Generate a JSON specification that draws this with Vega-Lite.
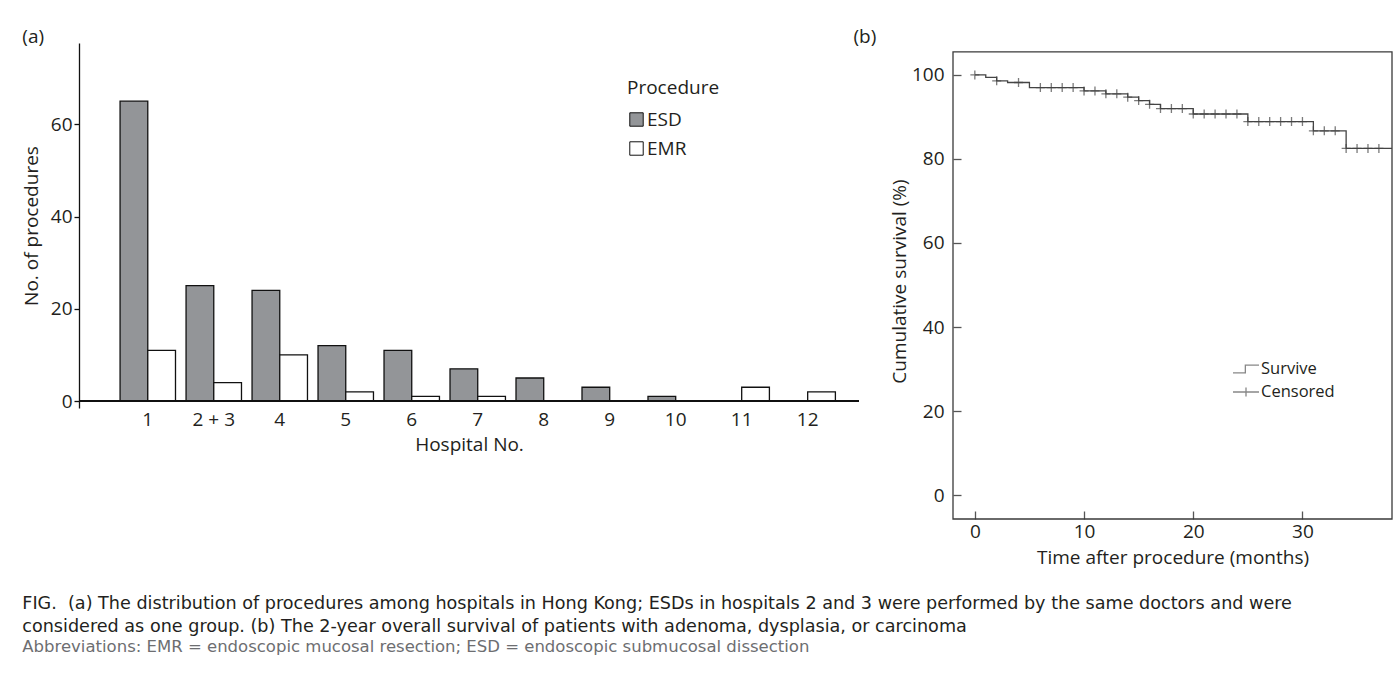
{
  "$schema": "https://vega.github.io/schema/vega-lite/v6.json",
  "background": "white",
  "padding": {"left": 22, "top": 27, "right": 5, "bottom": 5},
  "spacing": -7,
  "title": {
    "text": ["FIG.\u00a0 (a) The distribution of procedures among hospitals in Hong Kong; ESDs in hospitals 2 and 3 were performed by the same doctors and were", "considered as one group. (b) The 2-year overall survival of patients with adenoma, dysplasia, or carcinoma"],
    "subtitle": "Abbreviations: EMR = endoscopic mucosal resection; ESD = endoscopic submucosal dissection",
    "orient": "bottom",
    "anchor": "start",
    "frame": "bounds",
    "offset": 28,
    "font": "DejaVu Sans",
    "fontSize": 17.6,
    "lineHeight": 23,
    "color": "#231f20",
    "subtitleFont": "DejaVu Sans",
    "subtitleFontSize": 16.5,
    "subtitleFontWeight": "normal",
    "subtitleColor": "#6d6e71",
    "subtitlePadding": 3
  },
  "datasets": {
    "hospitals": [
      {"hospital": "1", "procedure": "ESD", "count": 65}, {"hospital": "1", "procedure": "EMR", "count": 11},
      {"hospital": "2 + 3", "procedure": "ESD", "count": 25}, {"hospital": "2 + 3", "procedure": "EMR", "count": 4},
      {"hospital": "4", "procedure": "ESD", "count": 24}, {"hospital": "4", "procedure": "EMR", "count": 10},
      {"hospital": "5", "procedure": "ESD", "count": 12}, {"hospital": "5", "procedure": "EMR", "count": 2},
      {"hospital": "6", "procedure": "ESD", "count": 11}, {"hospital": "6", "procedure": "EMR", "count": 1},
      {"hospital": "7", "procedure": "ESD", "count": 7}, {"hospital": "7", "procedure": "EMR", "count": 1},
      {"hospital": "8", "procedure": "ESD", "count": 5}, {"hospital": "8", "procedure": "EMR", "count": 0},
      {"hospital": "9", "procedure": "ESD", "count": 3}, {"hospital": "9", "procedure": "EMR", "count": 0},
      {"hospital": "10", "procedure": "ESD", "count": 1}, {"hospital": "10", "procedure": "EMR", "count": 0},
      {"hospital": "11", "procedure": "ESD", "count": 0}, {"hospital": "11", "procedure": "EMR", "count": 3},
      {"hospital": "12", "procedure": "ESD", "count": 0}, {"hospital": "12", "procedure": "EMR", "count": 2}
    ],
    "survival": [
      {"month": 0, "survival": 100}, {"month": 1, "survival": 99.4}, {"month": 2, "survival": 98.6},
      {"month": 3, "survival": 98.2}, {"month": 5, "survival": 97.0}, {"month": 10, "survival": 96.2},
      {"month": 12, "survival": 95.5}, {"month": 14, "survival": 94.7}, {"month": 15, "survival": 93.9},
      {"month": 16, "survival": 93.0}, {"month": 17, "survival": 92.0}, {"month": 20, "survival": 90.7},
      {"month": 25, "survival": 88.9}, {"month": 31, "survival": 86.7}, {"month": 34, "survival": 82.5},
      {"month": 38.2, "survival": 82.5}
    ],
    "censored": [
      {"month": 0, "survival": 100, "series": "Censored"}, {"month": 2, "survival": 98.6, "series": "Censored"},
      {"month": 4, "survival": 98.2, "series": "Censored"}, {"month": 6, "survival": 97.0, "series": "Censored"},
      {"month": 7, "survival": 97.0, "series": "Censored"}, {"month": 8, "survival": 97.0, "series": "Censored"},
      {"month": 9, "survival": 97.0, "series": "Censored"}, {"month": 10, "survival": 96.2, "series": "Censored"},
      {"month": 11, "survival": 96.2, "series": "Censored"}, {"month": 12, "survival": 95.5, "series": "Censored"},
      {"month": 13, "survival": 95.5, "series": "Censored"}, {"month": 14, "survival": 94.7, "series": "Censored"},
      {"month": 15, "survival": 93.9, "series": "Censored"}, {"month": 16, "survival": 93.0, "series": "Censored"},
      {"month": 17, "survival": 92.0, "series": "Censored"}, {"month": 18, "survival": 92.0, "series": "Censored"},
      {"month": 19, "survival": 92.0, "series": "Censored"}, {"month": 20, "survival": 90.7, "series": "Censored"},
      {"month": 21, "survival": 90.7, "series": "Censored"}, {"month": 22, "survival": 90.7, "series": "Censored"},
      {"month": 23, "survival": 90.7, "series": "Censored"}, {"month": 24, "survival": 90.7, "series": "Censored"},
      {"month": 25, "survival": 88.9, "series": "Censored"}, {"month": 26, "survival": 88.9, "series": "Censored"},
      {"month": 27, "survival": 88.9, "series": "Censored"}, {"month": 28, "survival": 88.9, "series": "Censored"},
      {"month": 29, "survival": 88.9, "series": "Censored"}, {"month": 30, "survival": 88.9, "series": "Censored"},
      {"month": 31, "survival": 86.7, "series": "Censored"}, {"month": 32, "survival": 86.7, "series": "Censored"},
      {"month": 33, "survival": 86.7, "series": "Censored"}, {"month": 34, "survival": 82.5, "series": "Censored"},
      {"month": 35, "survival": 82.5, "series": "Censored"}, {"month": 36, "survival": 82.5, "series": "Censored"},
      {"month": 37, "survival": 82.5, "series": "Censored"}
    ],
    "frame": [{"x0": -2, "x1": 38.2, "y0": -5.7, "y1": 105.5}]
  },
  "hconcat": [
    {
      "width": 780,
      "height": 365,
      "title": {"text": "(a)", "anchor": "start", "frame": "bounds", "fontSize": 19, "offset": -3.5},
      "view": {"stroke": null},
      "data": {"name": "hospitals"},
      "layer": [
        {
          "mark": {"type": "bar", "stroke": "#111111", "strokeWidth": 1.3},
          "encoding": {
            "x": {
              "field": "hospital", "type": "nominal",
              "scale": {"domain": ["1", "2 + 3", "4", "5", "6", "7", "8", "9", "10", "11", "12"], "paddingInner": 0.16, "paddingOuter": 0.49, "align": 0.635},
              "axis": {"domain": false, "ticks": false, "labelAngle": 0, "labelPadding": 2, "title": "Hospital No.", "titlePadding": 6}
            },
            "xOffset": {"field": "procedure", "type": "nominal", "scale": {"domain": ["ESD", "EMR"]}},
            "y": {
              "field": "count", "type": "quantitative", "stack": null,
              "scale": {"domain": [-1.5, 77.6], "nice": false, "zero": false},
              "axis": {"values": [0, 20, 40, 60], "domain": true, "domainColor": "#111111", "domainWidth": 1.3, "ticks": true, "tickColor": "#111111", "tickWidth": 1.3, "tickSize": 5, "labelPadding": 2, "title": "No. of procedures", "titlePadding": 9}
            },
            "y2": {"datum": 0},
            "fill": {
              "field": "procedure", "type": "nominal",
              "scale": {"domain": ["ESD", "EMR"], "range": ["#939598", "#ffffff"]},
              "legend": {
                "title": "Procedure", "orient": "none", "legendX": 548, "legendY": 36, "padding": 0,
                "titleFontSize": 19, "titleFontWeight": "normal", "titleColor": "#231f20", "titlePadding": 12,
                "labelFontSize": 19, "labelColor": "#231f20", "labelOffset": 1, "rowPadding": 9,
                "symbolType": "square", "symbolSize": 180, "symbolStrokeColor": "#111111", "symbolStrokeWidth": 1
              }
            }
          }
        },
        {
          "mark": {"type": "rule", "color": "#111111", "strokeWidth": 1.3},
          "encoding": {"y": {"datum": 0}}
        }
      ]
    },
    {
      "width": 439,
      "height": 476,
      "title": {"text": "(b)", "anchor": "start", "frame": "bounds", "fontSize": 19, "dx": -37, "offset": -3.5},
      "view": {"stroke": null},
      "layer": [
        {
          "data": {"name": "frame"},
          "mark": {"type": "rect", "fill": null, "stroke": "#3a3a3a", "strokeWidth": 1.3},
          "encoding": {
            "x": {"field": "x0", "type": "quantitative"},
            "x2": {"field": "x1"},
            "y": {"field": "y0", "type": "quantitative"},
            "y2": {"field": "y1"}
          }
        },
        {
          "data": {"name": "survival"},
          "mark": {"type": "line", "interpolate": "step-after", "color": "#444444", "strokeWidth": 1.3},
          "encoding": {
            "x": {
              "field": "month", "type": "quantitative",
              "scale": {"domain": [-2, 38.2], "nice": false, "zero": false},
              "axis": {"values": [0, 10, 20, 30], "domain": false, "ticks": true, "tickSize": -8, "tickColor": "#555555", "tickWidth": 1.3, "labelPadding": 11, "title": "Time after procedure (months)", "titlePadding": 7}
            },
            "y": {
              "field": "survival", "type": "quantitative",
              "scale": {"domain": [-5.7, 107.6], "nice": false, "zero": false},
              "axis": {"values": [0, 20, 40, 60, 80, 100], "domain": false, "ticks": true, "tickSize": -8, "tickColor": "#555555", "tickWidth": 1.3, "labelPadding": 17, "title": "Cumulative survival (%)", "titlePadding": 2}
            }
          }
        },
        {
          "data": {"name": "censored"},
          "mark": {"type": "point", "shape": "M-1,0H1M0,-1V1", "size": 81, "filled": false, "color": "#444444", "strokeWidth": 1.3},
          "encoding": {
            "x": {"field": "month", "type": "quantitative"},
            "y": {"field": "survival", "type": "quantitative"}
          }
        },
        {
          "data": {"name": "censored"},
          "mark": {"type": "point", "filled": false, "color": "#555555", "strokeWidth": 0},
          "encoding": {
            "x": {"field": "month", "type": "quantitative"},
            "y": {"field": "survival", "type": "quantitative"},
            "shape": {
              "field": "series", "type": "nominal",
              "scale": {"domain": ["Survive", "Censored"], "range": ["M-1,0.3H-0.05V-0.3H1", "M-1,0H1M0,-0.35V0.35"]},
              "legend": {
                "title": null, "orient": "none", "legendX": 1153, "legendY": 312, "padding": 0,
                "labelFontSize": 16.5, "labelColor": "#231f20", "labelOffset": 1, "rowPadding": -3,
                "symbolSize": 676, "symbolStrokeColor": "#555555", "symbolStrokeWidth": 1.3, "symbolFillColor": "transparent"
              }
            }
          }
        }
      ]
    }
  ],
  "config": {
    "font": "Open Sans",
    "view": {"stroke": null},
    "axis": {"grid": false, "labelFont": "Open Sans", "titleFont": "Open Sans", "labelFontSize": 19, "titleFontSize": 19, "titleFontWeight": "normal", "labelColor": "#231f20", "titleColor": "#231f20"},
    "legend": {"labelFont": "Open Sans", "titleFont": "Open Sans"},
    "title": {"font": "Open Sans", "fontWeight": "normal", "color": "#231f20"}
  }
}
